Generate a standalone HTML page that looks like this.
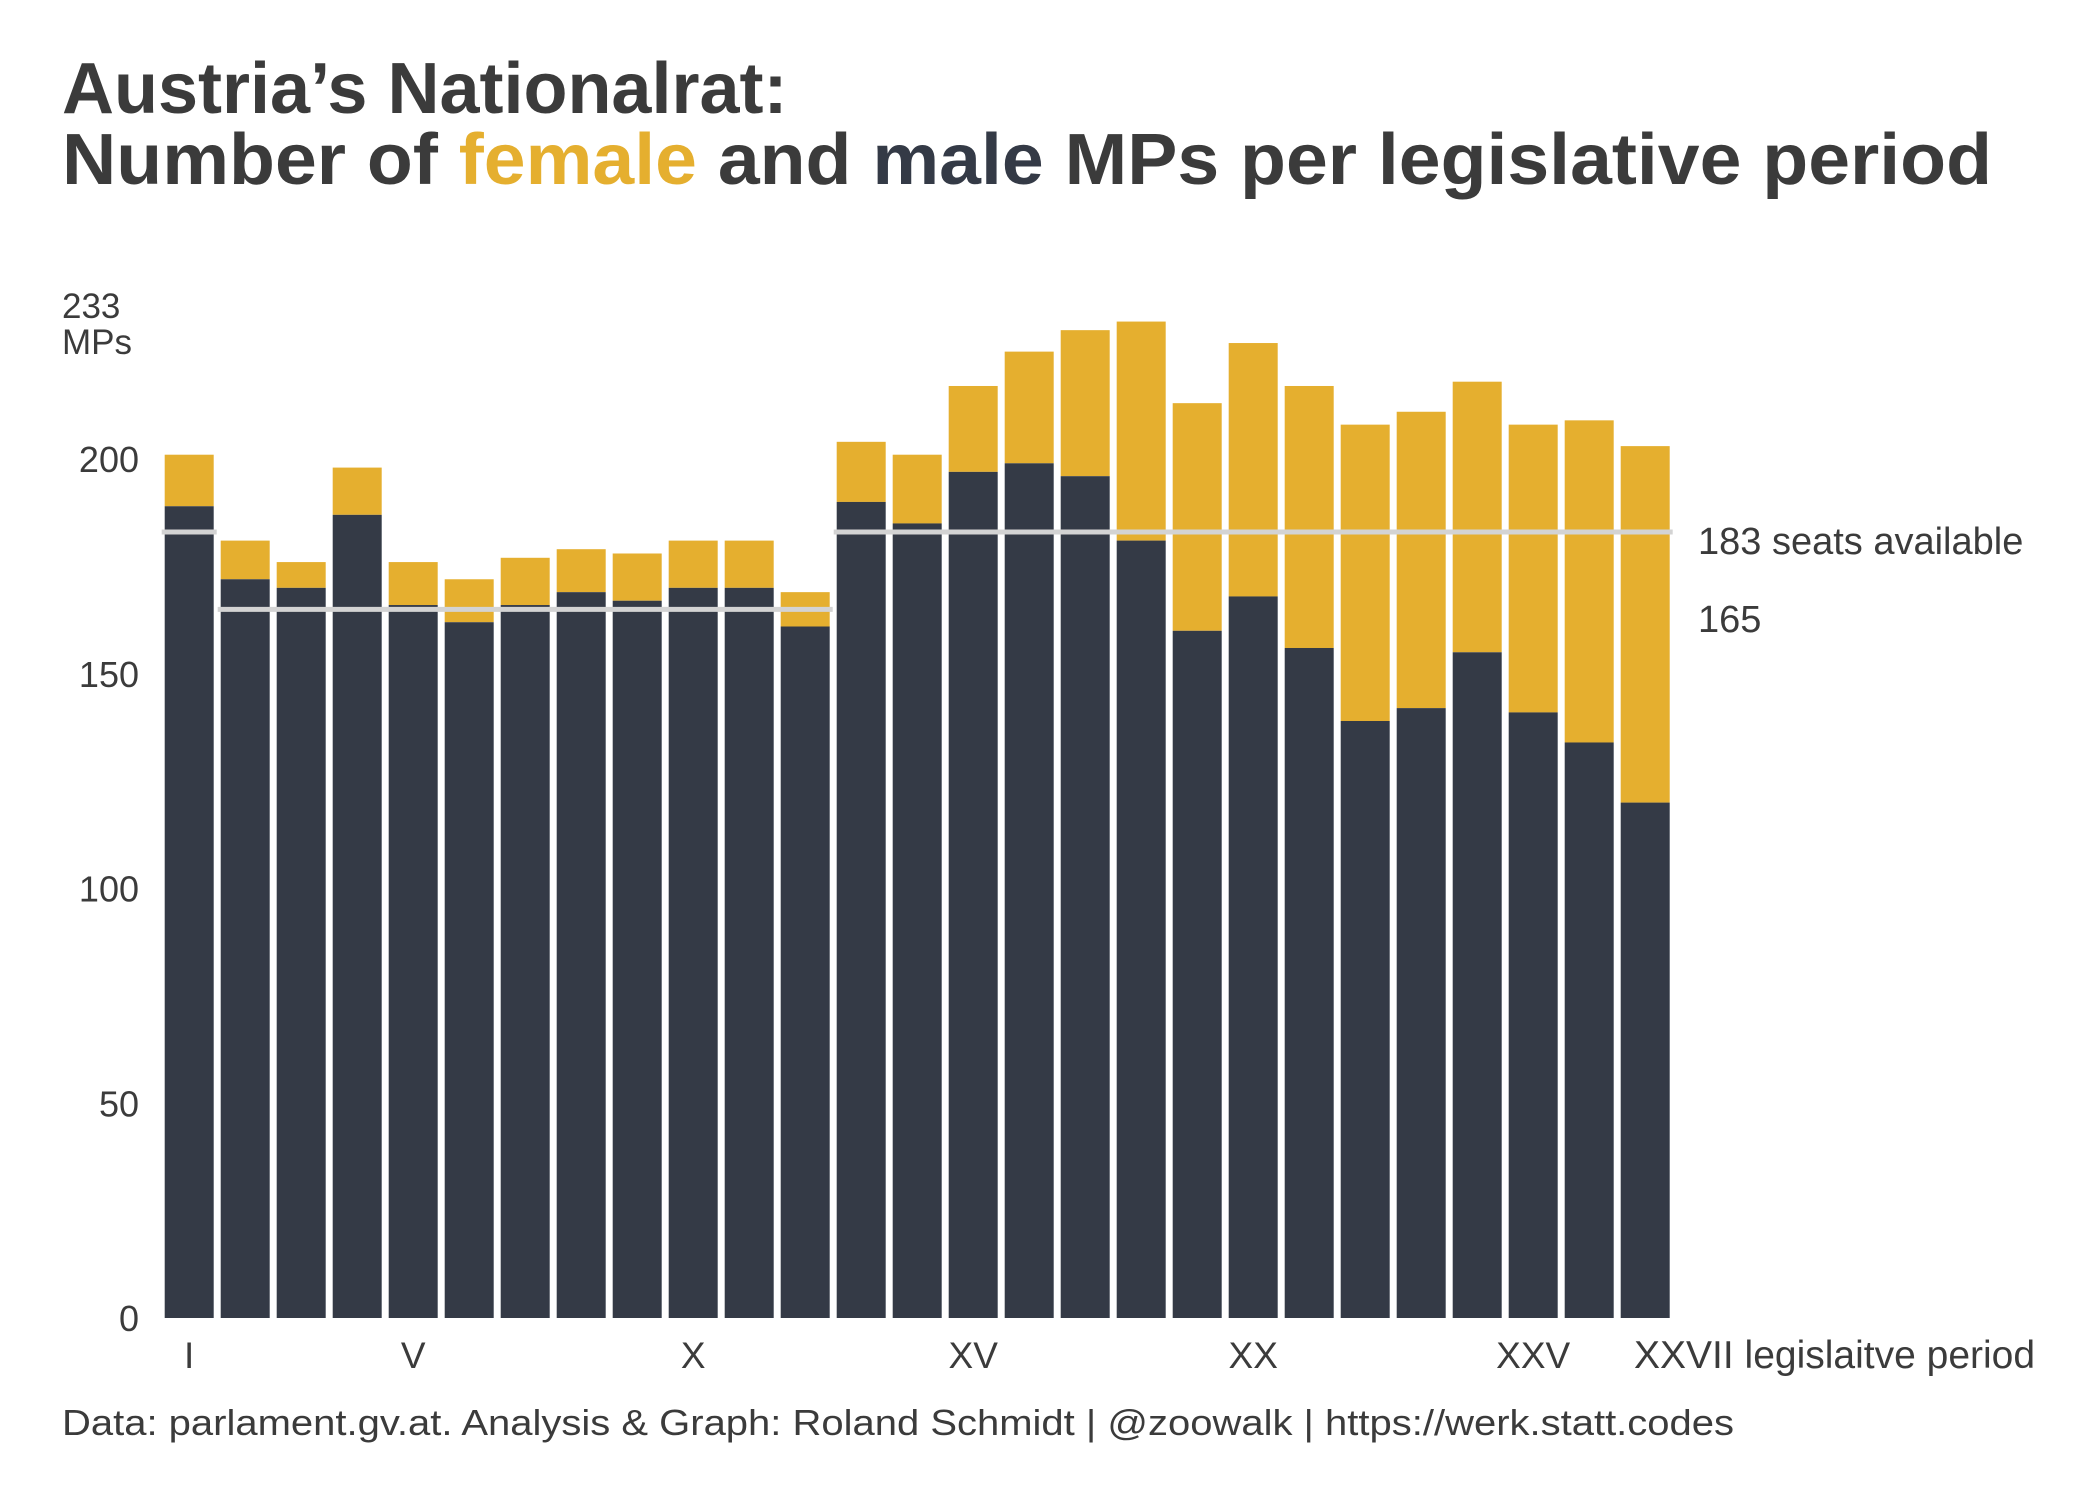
<!DOCTYPE html>
<html><head><meta charset="utf-8"><style>
html,body{margin:0;padding:0;background:#fff;}
svg{display:block;font-family:"Liberation Sans",sans-serif;}
</style></head><body>
<svg id="chart" width="2100" height="1499" viewBox="0 0 2100 1499" xmlns="http://www.w3.org/2000/svg">
<g font-weight="bold" font-size="72" fill="#3b3b3b">
<text x="62" y="113">Austria’s Nationalrat:</text>
<text x="62" y="184" textLength="1930" lengthAdjust="spacingAndGlyphs">Number of <tspan fill="#e5af2f">female</tspan> and <tspan fill="#343a46">male</tspan> MPs per legislative period</text>
</g>
<g id="bars"></g>
<g id="refs"></g>
<g id="yaxis" font-size="36" fill="#3b3b3b"></g>
<g id="xaxis" font-size="37" fill="#3b3b3b"></g>
<text x="62" y="318" font-size="35" fill="#3b3b3b">233</text>
<text x="62" y="354" font-size="35" fill="#3b3b3b">MPs</text>
<text x="1698" y="554" font-size="38" fill="#3b3b3b">183 seats available</text>
<text x="1698" y="632" font-size="38" fill="#3b3b3b">165</text>
<text x="62" y="1435" font-size="36" fill="#3b3b3b" textLength="1672" lengthAdjust="spacingAndGlyphs">Data: parlament.gv.at. Analysis &amp; Graph: Roland Schmidt | @zoowalk | https://werk.statt.codes</text>
</svg>
<script>
const periods = ["I","II","III","IV","V","VI","VII","VIII","IX","X","XI","XII","XIII","XIV","XV","XVI","XVII","XVIII","XIX","XX","XXI","XXII","XXIII","XXIV","XXV","XXVI","XXVII"];
const totalMPs = [201,181,176,198,176,172,177,179,178,181,181,169,204,201,217,225,230,232,213,227,217,208,211,218,208,209,203];
const maleMPs = [189,172,170,187,166,162,166,169,167,170,170,161,190,185,197,199,196,181,160,168,156,139,142,155,141,134,120];
const yTicks = [0,50,100,150,200];
const xTickLabels = {"I":"I","V":"V","X":"X","XV":"XV","XX":"XX","XXV":"XXV","XXVII":"XXVII legislaitve period"};
const seatsAvailable = 183;
const seatsLowPeriods = [1,2,3,4,5,6,7,8,9,10,11];
const seatsLow = 165;

const NS = "http://www.w3.org/2000/svg";
const y = v => 1318 - v * 4.295;
const x0 = 164.7, pitch = 56.0, bw = 49;
const x = i => x0 + i * pitch;
function mk(tag, attrs, parent){const e=document.createElementNS(NS,tag);for(const k in attrs)e.setAttribute(k,attrs[k]);parent.appendChild(e);return e;}

const bars = document.getElementById('bars');
periods.forEach((p,i)=>{
  const f = mk('rect',{x:x(i),y:y(totalMPs[i]),width:bw,height:y(maleMPs[i])-y(totalMPs[i]),fill:'#e5af2f'},bars);
  
  
  const m = mk('rect',{x:x(i),y:y(maleMPs[i]),width:bw,height:y(0)-y(maleMPs[i]),fill:'#343a46'},bars);
  
  
});

const refs = document.getElementById('refs');
const segs = [[0,0,seatsAvailable],[seatsLowPeriods[0],seatsLowPeriods[seatsLowPeriods.length-1],seatsLow],[12,26,seatsAvailable]];
segs.forEach((s,k)=>{
  const l = mk('line',{x1:x(s[0])-3,x2:x(s[1])+bw+3,y1:y(s[2]),y2:y(s[2]),stroke:'#d3d3d3','stroke-width':5},refs);
  
  
});

const ya = document.getElementById('yaxis');
yTicks.forEach(t=>{
  const tx = mk('text',{x:139,y:y(t)+13,'text-anchor':'end'},ya);
  tx.textContent = t;
  
  
});

const xa = document.getElementById('xaxis');
periods.forEach((p,i)=>{
  if(!(p in xTickLabels)) return;
  const last = p === "XXVII";
  const tx = mk('text',{x:last ? 1634 : x(i)+bw/2, y:1368,'text-anchor':last?'start':'middle'},xa);
  if(last) tx.setAttribute('font-size','39');
  tx.textContent = xTickLabels[p];
  
  
});
</script>
</body></html>
